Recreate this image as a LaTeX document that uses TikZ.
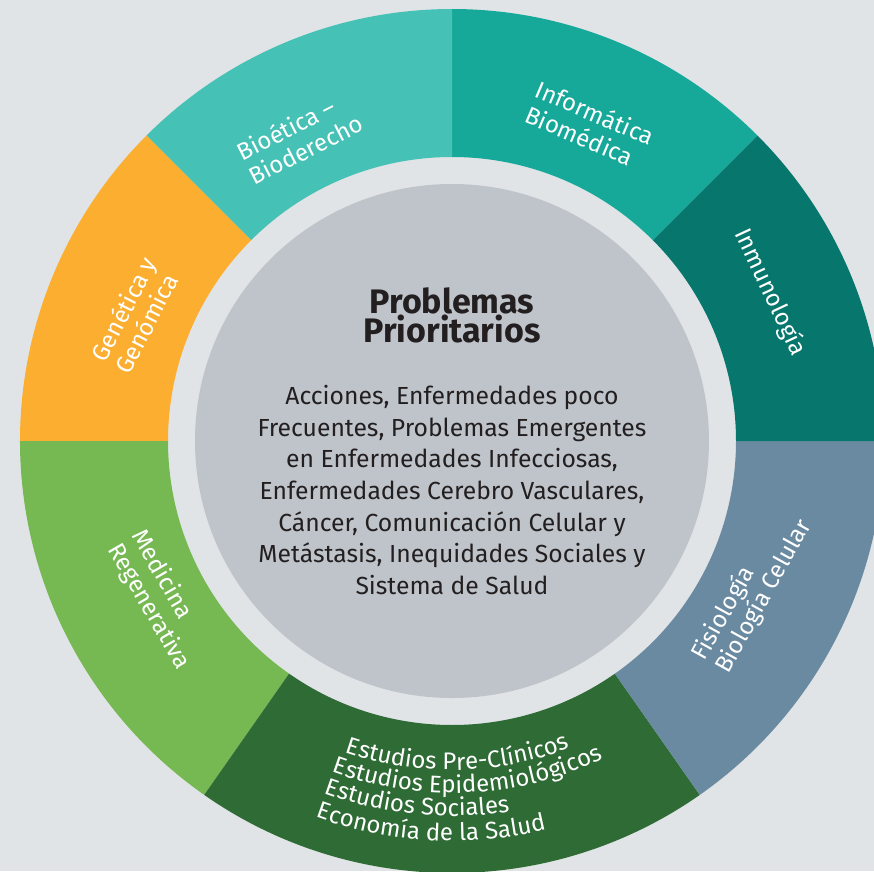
\documentclass[tikz,border=0pt]{standalone}
\usepackage{fontspec}
\setmainfont{Fira Sans}
\usetikzlibrary{decorations.text}

\definecolor{bggray}{HTML}{E1E4E7}
\definecolor{coregray}{HTML}{BEC4CA}
\definecolor{darktext}{HTML}{231F20}
\definecolor{bioteal}{HTML}{45C1B5}
\definecolor{infoteal}{HTML}{16A99A}
\definecolor{inmuteal}{HTML}{07766C}
\definecolor{genorange}{HTML}{FBAE2F}
\definecolor{medgreen}{HTML}{76B852}
\definecolor{estgreen}{HTML}{2E6B35}
\definecolor{fisislate}{HTML}{6A8AA2}

\newcommand{\ringfont}{\fontsize{24}{27}\selectfont}

\begin{document}
\begin{tikzpicture}[x=1pt, y=1pt,
        seglabel/.style={
            text=white,
            font=\ringfont,
            align=left,
            inner sep=0pt},
        titletext/.style={
            text=darktext,
            font=\fontsize{34}{28}\selectfont\bfseries,
            align=center,
            inner sep=0pt},
        bodytext/.style={
            text=darktext,
            font=\fontsize{24.7}{31.7}\selectfont,
            align=center,
            inner sep=0pt}
        ]

    % background and bounding box
    \useasboundingbox (-452,-430) rectangle (422,441);
    \clip (-452,-430) rectangle (422,441);
    \fill[bggray] (-452,-430) rectangle (422,441);

    % ring segments
    \fill[infoteal] (45:284pt) arc[start angle=45, end angle=90, radius=284pt] -- (90:432pt) arc[start angle=90, end angle=45, radius=432pt] -- cycle;
    \fill[bioteal] (90:284pt) arc[start angle=90, end angle=135, radius=284pt] -- (135:432pt) arc[start angle=135, end angle=90, radius=432pt] -- cycle;
    \fill[genorange] (135:284pt) arc[start angle=135, end angle=180, radius=284pt] -- (180:432pt) arc[start angle=180, end angle=135, radius=432pt] -- cycle;
    \fill[medgreen] (180:284pt) arc[start angle=180, end angle=235, radius=284pt] -- (235:432pt) arc[start angle=235, end angle=180, radius=432pt] -- cycle;
    \fill[estgreen] (235:284pt) arc[start angle=235, end angle=305, radius=284pt] -- (305:432pt) arc[start angle=305, end angle=235, radius=432pt] -- cycle;
    \fill[fisislate] (305:284pt) arc[start angle=305, end angle=360, radius=284pt] -- (360:432pt) arc[start angle=360, end angle=305, radius=432pt] -- cycle;
    \fill[inmuteal] (0:284pt) arc[start angle=0, end angle=45, radius=284pt] -- (45:432pt) arc[start angle=45, end angle=0, radius=432pt] -- cycle;

    % core
    \fill[coregray] (0,0) circle[radius=257pt];

    % segment labels
    \node (bioetica) [seglabel, rotate=27] at (116.6:340) {Bioética --\\Bioderecho};
    \node (informatica) [seglabel, rotate=-23] at (66.4:345) {Informática\\Biomédica};
    \node (inmunologia) [seglabel, rotate=-65] at (25:351) {Inmunología};
    \node (genetica) [seglabel, rotate=63] at (158.3:341) {Genética y\\Genómica};
    \node (medicina) [seglabel, rotate=-60] at (208.6:332) {Medicina\\Regenerativa};
    \node (fisiologia) [seglabel, rotate=61] at (-26.4:335) {Fisiología\\Biología Celular};

    % curved lines of the bottom segment
    \path[decorate, decoration={text along path, text align=left,
        text={|\color{white}\ringfont|Estudios Pre-Clínicos}}]
        (251:329pt) arc[start angle=251, end angle=320, radius=329pt];
    \path[decorate, decoration={text along path, text align=left,
        text={|\color{white}\ringfont|Estudios Epidemiológicos}}]
        (250:352pt) arc[start angle=250, end angle=320, radius=352pt];
    \path[decorate, decoration={text along path, text align=left,
        text={|\color{white}\ringfont|Estudios Sociales}}]
        (250:375pt) arc[start angle=250, end angle=320, radius=375pt];
    \path[decorate, decoration={text along path, text align=left,
        text={|\color{white}\ringfont|Economía de la Salud}}]
        (250:400pt) arc[start angle=250, end angle=320, radius=400pt];

    % core texts
    \node (title) [titletext] at (0,126) {Problemas\\Prioritarios};
    \node (body) [bodytext] at (0,-49) {Acciones, Enfermedades poco\\Frecuentes, Problemas Emergentes\\en Enfermedades Infecciosas,\\Enfermedades Cerebro Vasculares,\\Cáncer, Comunicación Celular y\\Metástasis, Inequidades Sociales y\\Sistema de Salud};

\end{tikzpicture}
\end{document}
